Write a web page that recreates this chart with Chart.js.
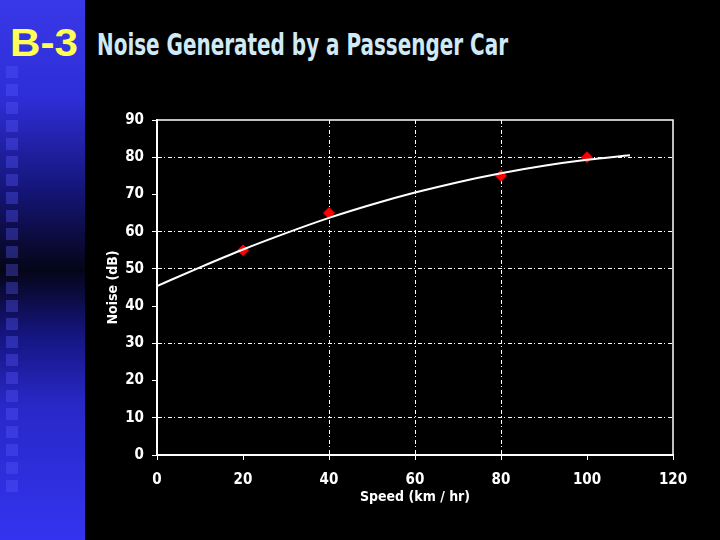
<!DOCTYPE html>
<html>
<head>
<meta charset="utf-8">
<script src="https://cdn.jsdelivr.net/npm/chart.js@4"></script>
<style>
  html, body { margin: 0; padding: 0; background: #000; }
  #page { position: relative; width: 720px; height: 540px; overflow: hidden; background: #000; }
  #strip {
    position: absolute; left: 0; top: 0; width: 85px; height: 540px;
    background: linear-gradient(to bottom, #3838e8 0%, #2e2ed8 18%, #15157a 35%, #050518 50%, #151580 62%, #2828c8 75%, #3434f0 100%);
  }
  .sq { position: absolute; left: 6px; width: 12px; height: 12px; background: rgba(90, 90, 255, 0.35); }
  #code {
    position: absolute; left: 10px; top: 22px; color: #ffff55;
    font: bold 38px "Liberation Sans", Arial, sans-serif; transform-origin: 0 0;
  }
  #title {
    position: absolute; left: 97px; top: 26px; color: #cfe9f7; white-space: nowrap;
    font: bold 31px "Liberation Sans Narrow", "DejaVu Sans Condensed", sans-serif; transform-origin: 0 0;
  }
  #chart { position: absolute; left: 0; top: 0; }
</style>
</head>
<body>
<div id="page">
  <div id="strip"></div>
  <div id="code">B-3</div>
  <div id="title">Noise Generated by a Passenger Car</div>
  <canvas id="chart" width="720" height="540"></canvas>
</div>
<script>
// ===============================
// DADOS
// ===============================
const velocidades = [20, 40, 80, 100];
const ruido = [55, 65, 75, 80];

// tendência
const tendenciaX = [0, 10, 20, 30, 40, 50, 60, 70, 80, 90, 100, 110];
const tendenciaY = [45.4, 50.4, 55.2, 59.6, 63.7, 67.3, 70.5, 73.3, 75.7, 77.7, 79.3, 80.5];

const gradeX = [40, 60, 80];
const gradeY = [10, 30, 50, 60, 80];

// ===============================
// DECORAÇÃO
// ===============================
(function montarFaixa() {
  const strip = document.getElementById('strip');
  for (let y = 66; y < 485; y += 18) {
    const d = document.createElement('div');
    d.className = 'sq';
    d.style.top = y + 'px';
    strip.appendChild(d);
  }
})();

function ajustarLargura(id, largura) {
  const el = document.getElementById(id);
  const w = el.getBoundingClientRect().width;
  el.style.transform = `scaleX(${largura / w})`;
}
ajustarLargura('code', 68);
ajustarLargura('title', 411);

// moldura do gráfico (topo e direita)
const moldura = {
  id: 'moldura',
  beforeDatasetsDraw(chart) {
    const { ctx, chartArea: a } = chart;
    ctx.save();
    ctx.strokeStyle = '#ffffff';
    ctx.lineWidth = 1.5;
    ctx.strokeRect(a.left, a.top, a.right - a.left, a.bottom - a.top);
    ctx.restore();
  }
};

const fonteEixo = { family: '"Liberation Sans Narrow", "DejaVu Sans Condensed", sans-serif', weight: 'bold' };

// ===============================
// GRÁFICO
// ===============================
new Chart(document.getElementById('chart'), {
  type: 'scatter',
  data: {
    datasets: [
      {
        label: 'Tendência',
        type: 'line',
        data: tendenciaX.map((x, i) => ({ x, y: tendenciaY[i] })),
        borderColor: '#ffffff',
        borderWidth: 2,
        pointRadius: 0,
        fill: false,
        cubicInterpolationMode: 'monotone',
        order: 0
      },
      {
        label: 'Ruído',
        data: velocidades.map((x, i) => ({ x, y: ruido[i] })),
        backgroundColor: '#ff0000',
        borderColor: '#ee0000',
        pointStyle: 'rectRot',
        pointRadius: 5.5,
        order: 1
      }
    ]
  },
  options: {
    responsive: false,
    animation: false,
    layout: { padding: { left: 100, top: 120, right: 47, bottom: 30 } },
    plugins: { legend: { display: false }, tooltip: { enabled: false } },
    scales: {
      x: {
        type: 'linear', min: 0, max: 120,
        afterFit: s => { s.height = 55; },
        ticks: { stepSize: 20, color: '#ffffff', padding: 11, font: { ...fonteEixo, size: 15 } },
        grid: {
          color: c => gradeX.includes(c.tick && c.tick.value) ? '#ffffff' : 'transparent',
          tickColor: '#ffffff', tickLength: 5, lineWidth: 1
        },
        border: { color: '#ffffff', width: 2, dash: [4, 2, 1, 3] },
        title: { display: true, text: 'Speed (km / hr)', color: '#ffffff', padding: { top: 2, bottom: 4 }, font: { ...fonteEixo, size: 14 } }
      },
      y: {
        min: 0, max: 90,
        afterFit: s => { s.width = 57; },
        ticks: { stepSize: 10, color: '#ffffff', padding: 8, font: { ...fonteEixo, size: 15 } },
        grid: {
          color: c => gradeY.includes(c.tick && c.tick.value) ? '#ffffff' : 'transparent',
          tickColor: '#ffffff', tickLength: 5, lineWidth: 1
        },
        border: { color: '#ffffff', width: 2, dash: [4, 2, 1, 3] },
        title: { display: true, text: 'Noise (dB)', color: '#ffffff', padding: { top: 5 }, font: { ...fonteEixo, size: 14 } }
      }
    }
  },
  plugins: [moldura]
});
</script>
</body>
</html>
